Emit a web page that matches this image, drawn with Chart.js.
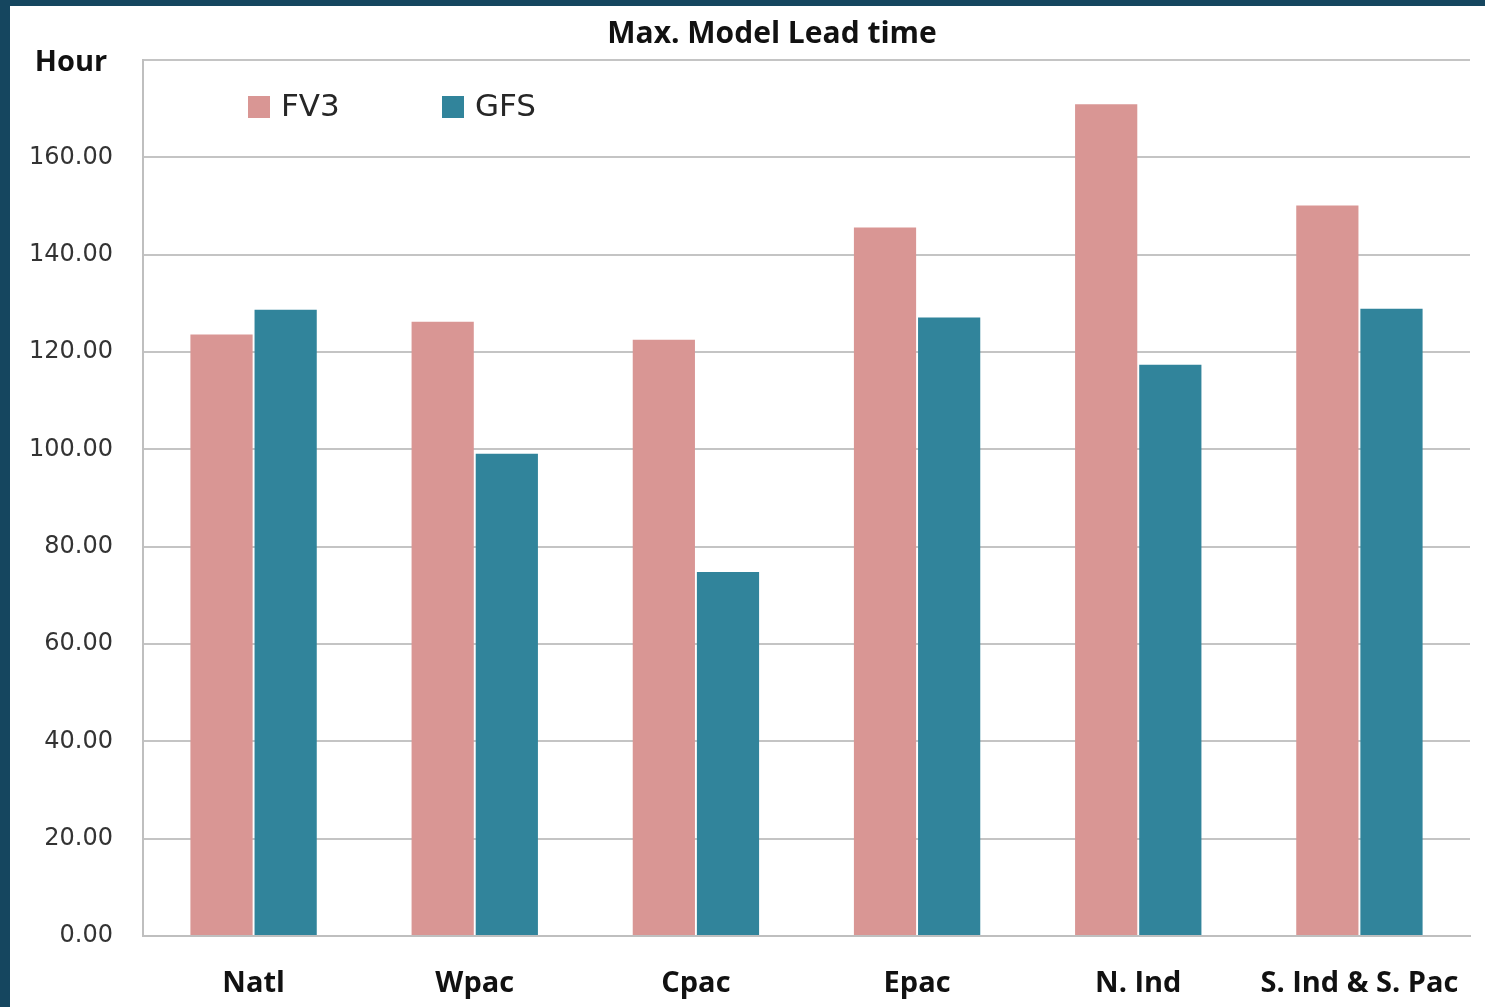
<!DOCTYPE html>
<html>
<head>
<meta charset="utf-8">
<script src="https://cdn.jsdelivr.net/npm/chart.js@4/dist/chart.umd.min.js"></script>
<style>
  html, body { margin: 0; padding: 0; background: #15465f; width: 1485px; height: 1007px; overflow: hidden; }
  #wrap { position: absolute; left: 10px; top: 6px; width: 1475px; height: 1001px; background: #ffffff; }
  canvas { display: block; }
</style>
</head>
<body>
<div id="wrap"><canvas id="c" width="1475" height="1001"></canvas></div>
<script>
const categories = ["Natl", "Wpac", "Cpac", "Epac", "N. Ind", "S. Ind & S. Pac"];
const fv3Values = [123.6, 126.2, 122.5, 145.6, 170.9, 150.1];
const gfsValues = [128.7, 99.1, 74.8, 127.1, 117.4, 128.9];
const seriesNames = ["FV3", "GFS"];
const titleText = "Max. Model Lead time";
const yAxisLabel = "Hour";

const FONT = "'Open Sans', 'Liberation Sans', sans-serif";
const FONT_R = "'DejaVu Sans', 'Open Sans', sans-serif";

const overlay = {
  id: 'overlay',
  afterDraw(chart) {
    const ctx = chart.ctx;
    ctx.save();
    ctx.fillStyle = '#111111';
    ctx.font = "bold 30px " + FONT;
    ctx.textAlign = 'center';
    ctx.textBaseline = 'middle';
    ctx.fillText(titleText, 762, 28);
    ctx.font = "bold 29px " + FONT;
    ctx.fillText(yAxisLabel, 61, 57);
    const ds = chart.data.datasets;
    const xs = [238, 432];
    ctx.font = "31px " + FONT_R;
    ctx.textAlign = 'left';
    ds.forEach((d, i) => {
      ctx.fillStyle = d.backgroundColor;
      ctx.fillRect(xs[i], 90, 22, 22);
      ctx.fillStyle = '#262626';
      ctx.fillText(d.label, xs[i] + 33, 102);
    });
    ctx.restore();
  }
};

new Chart(document.getElementById('c'), {
  type: 'bar',
  data: {
    labels: categories,
    datasets: [
      { label: seriesNames[0], data: fv3Values, backgroundColor: '#d99694' },
      { label: seriesNames[1], data: gfsValues, backgroundColor: '#31849b' }
    ]
  },
  options: {
    responsive: false,
    animation: false,
    devicePixelRatio: 1,
    layout: { padding: { left: 0, right: 15, top: 54, bottom: 0 } },
    datasets: { bar: { categoryPercentage: 0.58, barPercentage: 0.97 } },
    plugins: { legend: { display: false }, title: { display: false }, tooltip: { enabled: false } },
    scales: {
      x: {
        grid: { display: false, drawTicks: false },
        border: { display: true, color: '#bfbfbf', width: 2 },
        ticks: { color: '#111111', font: { family: FONT, size: 29, weight: 'bold' }, padding: 30, maxRotation: 0, autoSkip: false },
        afterFit(scale) { scale.height = 71; scale.paddingLeft = 0; scale.paddingRight = 0; }
      },
      y: {
        min: 0, max: 180,
        grid: { color: '#c4c4c4', lineWidth: 2, drawTicks: false },
        border: { display: true, color: '#bfbfbf', width: 2 },
        ticks: { stepSize: 20, color: '#333333', font: { family: FONT_R, size: 24 }, padding: 30,
                 callback: v => (v >= 180 ? '' : Number(v).toFixed(2)) },
        afterFit(scale) { scale.width = 133; scale.paddingTop = 0; scale.paddingBottom = 0; }
      }
    }
  },
  plugins: [overlay]
});
</script>
</body>
</html>
